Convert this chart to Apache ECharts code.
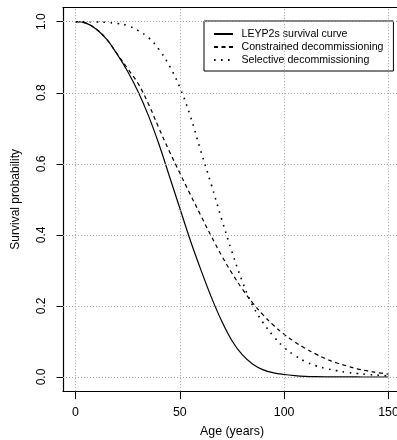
<!DOCTYPE html>
<html>
<head>
<meta charset="utf-8">
<script src="https://cdn.jsdelivr.net/npm/echarts@6/dist/echarts.min.js"></script>
<style>
  html, body { margin: 0; padding: 0; background: #ffffff; }
  #chart { width: 397px; height: 440px; }
</style>
</head>
<body>
<div id="chart"></div>
<script>
// Pipe age in years
const ages = [0, 5, 10, 15, 20, 25, 30, 35, 40, 45, 50, 55, 60, 65, 70, 75,
  80, 85, 90, 95, 100, 105, 110, 115, 120, 125, 130, 135, 140, 145, 150];

// Survival probability of each scenario at those ages
const leyp2s = [1.000, 0.996, 0.979, 0.950, 0.908, 0.860, 0.803, 0.735, 0.655, 0.565,
  0.475, 0.385, 0.303, 0.226, 0.158, 0.102, 0.062, 0.036, 0.020, 0.0115,
  0.007, 0.004, 0.002, 0.001, 0.0005, 0.0003, 0.0002, 0.0001, 0.0, 0.0, 0.0];

const constrained = [1.000, 0.996, 0.979, 0.950, 0.909, 0.868, 0.826, 0.768, 0.700, 0.635,
  0.574, 0.514, 0.455, 0.397, 0.342, 0.292, 0.247, 0.208, 0.174, 0.145,
  0.120, 0.099, 0.081, 0.065, 0.051, 0.040, 0.031, 0.023, 0.017, 0.012, 0.008];

const selective = [1.000, 1.000, 0.9995, 0.998, 0.995, 0.989, 0.975, 0.955, 0.922, 0.876,
  0.815, 0.735, 0.637, 0.543, 0.445, 0.352, 0.268, 0.200, 0.152, 0.114,
  0.083, 0.061, 0.044, 0.032, 0.024, 0.018, 0.013, 0.010, 0.007, 0.005, 0.003];

// Axis ticks
const xTicks = [0, 50, 100, 150];
const yTicks = [0.0, 0.2, 0.4, 0.6, 0.8, 1.0];

const FONT = 'Liberation Sans, Arial, Helvetica, sans-serif';
const INK = '#000000';

const pairs = (vals) => ages.map((a, i) => [a, vals[i]]);

const gridLines = xTicks.map(v => ({ xAxis: v })).concat(yTicks.map(v => ({ yAxis: v })));

const chart = echarts.init(document.getElementById('chart'), null, { renderer: 'canvas' });

chart.setOption({
  animation: false,
  backgroundColor: '#ffffff',
  grid: {
    left: 63, top: 7.5, width: 338, height: 383.7,
    containLabel: false, outerBoundsMode: 'none'
  },
  legend: {
    orient: 'vertical',
    left: 204,
    top: 21,
    padding: [7.5, 10, 5.5, 9],
    itemWidth: 19,
    itemHeight: 10,
    itemGap: 2,
    borderColor: INK,
    borderWidth: 1,
    align: 'left',
    itemStyle: { opacity: 0 },
    textStyle: { color: INK, fontFamily: FONT, fontSize: 10.6, padding: [0, 0, 0, 3.5] },
    data: ['LEYP2s survival curve', 'Constrained decommissioning', 'Selective decommissioning']
  },
  xAxis: [{
    type: 'value',
    min: -6,
    max: 156,
    position: 'bottom',
    name: 'Age (years)',
    nameLocation: 'middle',
    nameGap: 34,
    nameTextStyle: { color: INK, fontFamily: FONT, fontSize: 12.4 },
    axisLine: { show: true, onZero: false, lineStyle: { color: INK, width: 1.2 } },
    axisTick: { show: true, length: 8, customValues: xTicks, lineStyle: { color: INK, width: 1 } },
    axisLabel: {
      show: true, customValues: xTicks, margin: 15, hideOverlap: false,
      color: INK, fontFamily: FONT, fontSize: 12.4
    },
    splitLine: { show: false }
  }, {
    type: 'value',
    min: -6,
    max: 156,
    position: 'top',
    axisLine: { show: true, onZero: false, lineStyle: { color: INK, width: 1.2 } },
    axisTick: { show: false },
    axisLabel: { show: false },
    splitLine: { show: false }
  }],
  yAxis: [{
    type: 'value',
    min: -0.04,
    max: 1.04,
    position: 'left',
    name: 'Survival probability',
    nameLocation: 'middle',
    nameGap: 41,
    nameTextStyle: { color: INK, fontFamily: FONT, fontSize: 12 },
    axisLine: { show: true, onZero: false, lineStyle: { color: INK, width: 1.2 } },
    axisTick: { show: true, length: 6.5, customValues: yTicks, lineStyle: { color: INK, width: 1 } },
    axisLabel: {
      show: true, customValues: yTicks, rotate: 90, margin: 15,
      color: INK, fontFamily: FONT, fontSize: 12,
      formatter: (v) => Number(v).toFixed(1)
    },
    splitLine: { show: false }
  }],
  series: [{
    name: 'LEYP2s survival curve',
    type: 'line',
    data: pairs(leyp2s),
    smooth: 0.4,
    symbol: 'none',
    color: INK,
    lineStyle: { color: INK, width: 1.2, type: 'solid' },
    markLine: {
      silent: true,
      symbol: ['none', 'none'],
      label: { show: false },
      lineStyle: { color: '#a0a0a0', width: 1, type: [1, 2] },
      data: gridLines
    },
    z: 3
  }, {
    name: 'Constrained decommissioning',
    type: 'line',
    data: pairs(constrained),
    smooth: 0.4,
    symbol: 'none',
    color: INK,
    lineStyle: { color: INK, width: 1.2, type: [4, 3.5], cap: 'butt' },
    z: 3
  }, {
    name: 'Selective decommissioning',
    type: 'line',
    data: pairs(selective),
    smooth: 0.4,
    symbol: 'none',
    color: INK,
    lineStyle: { color: INK, width: 1.6, type: [1.6, 5.4], cap: 'butt' },
    z: 3
  }]
});
</script>
</body>
</html>
